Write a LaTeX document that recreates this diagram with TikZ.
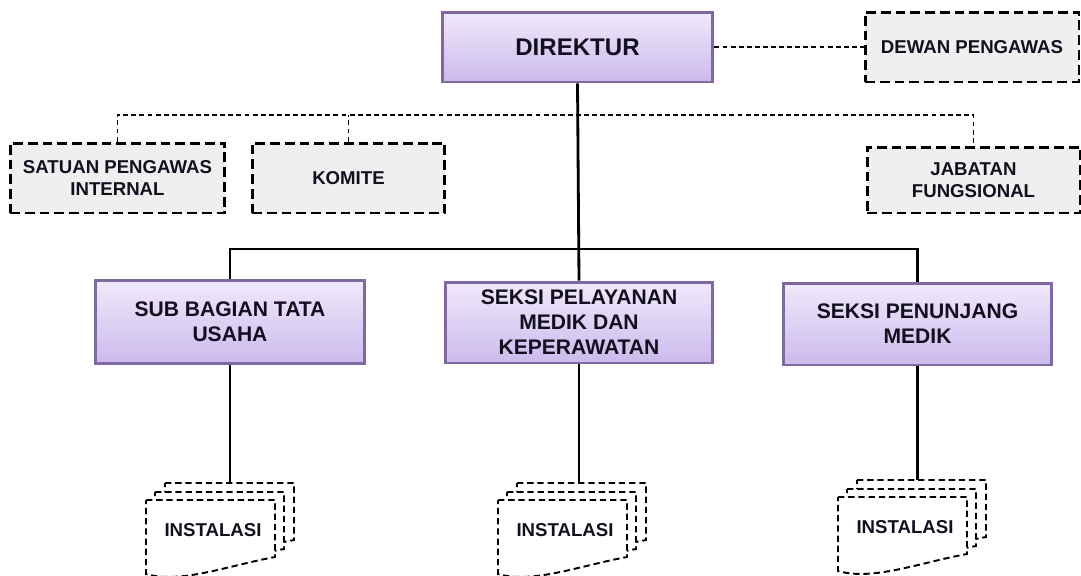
\documentclass[tikz,border=0pt]{standalone}
\usepackage{fontspec}
\setmainfont{Liberation Sans}
\usepackage{xcolor}
\definecolor{box-purple}{RGB}{128,104,160}
\definecolor{box-top}{RGB}{240,233,251}
\definecolor{box-bottom}{RGB}{203,186,236}
\definecolor{box-grey}{RGB}{239,239,239}
\definecolor{label-ink}{RGB}{18,16,30}
\usetikzlibrary{calc}
\tikzstyle{unit}=[draw=box-purple, line width=1.7pt, top color=box-top, bottom color=box-bottom, text=label-ink, align=center, font=\bfseries\fontsize{12}{14.2}\selectfont, inner sep=0pt]
\tikzstyle{staff}=[draw=black, line width=1.7pt, dash pattern=on 5.6pt off 2.8pt, fill=box-grey, text=label-ink, align=center, font=\bfseries\fontsize{10.6}{12.4}\selectfont, inner sep=0pt]
\tikzstyle{bus}=[line width=1.6pt]
\tikzstyle{dashbus}=[line width=0.8pt, dash pattern=on 2.8pt off 1.8pt]
\tikzstyle{docsheet}=[line width=1.1pt, dash pattern=on 3.6pt off 2.2pt, fill=white]
\tikzstyle{instlabel}=[text=label-ink, font=\bfseries\fontsize{10.6}{12}\selectfont, inner sep=0pt]
\newcommand{\docpage}[2]{\filldraw[docsheet] (#1,#2) -- (#1+129,#2) -- (#1+129,#2+57) .. controls (#1+80,#2+66) and (#1+35,#2+84) .. (#1,#2+74) -- cycle;}
\newcommand{\instalasi}[3]{
	\docpage{#2+19}{#3-17}
	\docpage{#2+9}{#3-8}
	\docpage{#2}{#3}
	\node[instlabel] (#1) at (#2+67,#3+30) {INSTALASI};
	\coordinate (#1top) at (#2+67,#3-17);
}

\begin{document}
\begin{tikzpicture}[x=0.02cm, y=-0.02cm]
	\clip (0,0) rectangle (1081,575);
	\fill[white] (0,0) rectangle (1081,575);
	\node[unit, minimum width=5.42cm, minimum height=1.4cm, font=\bfseries\fontsize{13.7}{16}\selectfont] (dir) at (577.5,47) {DIREKTUR};
	\node[staff, minimum width=4.28cm, minimum height=1.4cm] (dew) at (972,47) {DEWAN PENGAWAS};
	\node[staff, minimum width=4.3cm, minimum height=1.4cm] (sat) at (117.5,178) {SATUAN PENGAWAS\\INTERNAL};
	\node[staff, minimum width=3.86cm, minimum height=1.4cm] (kom) at (348.5,178) {KOMITE};
	\node[staff, minimum width=4.26cm, minimum height=1.32cm] (jab) at (973.5,180) {JABATAN\\FUNGSIONAL};
	\node[unit, minimum width=5.4cm, minimum height=1.66cm] (sub) at (230,322) {SUB BAGIAN TATA\\USAHA};
	\node[unit, minimum width=5.36cm, minimum height=1.62cm] (pel) at (579,322.5) {SEKSI PELAYANAN\\MEDIK DAN\\KEPERAWATAN};
	\node[unit, minimum width=5.38cm, minimum height=1.64cm] (pen) at (917.5,324) {SEKSI PENUNJANG\\MEDIK};
	\coordinate (staffline) at (577.5,115);
	\coordinate (unitline) at (577.5,249);
	\draw[dashbus] (dir.east) -- (dew.west);
	\draw[dashbus] (sat.north) |- (staffline) -| (jab.north);
	\draw[dashbus] (kom.north) -- (kom.north |- staffline);
	\draw[bus] (dir.south) -- (pel.north);
	\draw[bus] (sub.north) |- (unitline) -| (pen.north);
	\instalasi{inst1}{146}{500}
	\instalasi{inst2}{498}{500}
	\instalasi{inst3}{838}{497}
	\draw[bus] (sub.south) -- (sub.south |- inst1top);
	\draw[bus] (pel.south) -- (pel.south |- inst2top);
	\draw[bus] (pen.south) -- (pen.south |- inst3top);
\end{tikzpicture}
\end{document}
